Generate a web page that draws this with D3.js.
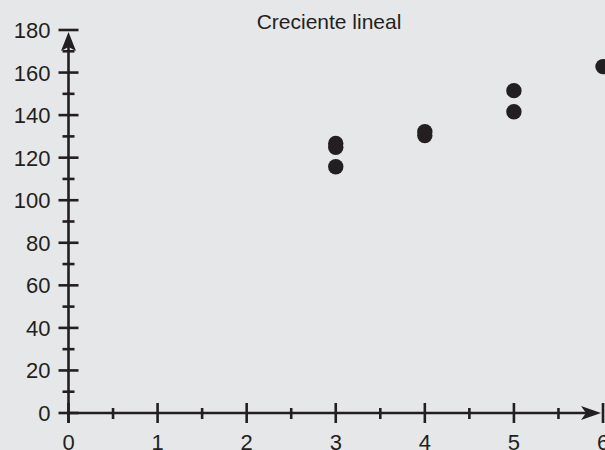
<!DOCTYPE html>
<html>
<head>
<meta charset="utf-8">
<script src="https://cdn.jsdelivr.net/npm/d3@7"></script>
<style>
  html, body { margin: 0; padding: 0; background: #e6e7e8; }
  svg { display: block; }
  text { font-family: "Liberation Sans", Arial, sans-serif; fill: #231f20; }
</style>
</head>
<body>
<svg id="chart" width="605" height="450"></svg>
<script>
// Observations: x position and measured value
const xValues = [3, 3, 3, 4, 4, 5, 5, 6];
const yValues = [126.7, 124.9, 115.7, 132.2, 130.4, 151.5, 141.6, 162.8];

// Tick labels
const xTickLabels = [0, 1, 2, 3, 4, 5, 6];
const yTickLabels = [0, 20, 40, 60, 80, 100, 120, 140, 160, 180];
const xMinorTicks = [0.5, 1.5, 2.5, 3.5, 4.5, 5.5];
const yMinorTicks = [10, 30, 50, 70, 90, 110, 130, 150, 170];

const title = "Creciente lineal";

const ink = "#231f20";
const svg = d3.select("#chart");

const x = d3.scaleLinear().domain([0, 6]).range([68.5, 603]);
const y = d3.scaleLinear().domain([0, 180]).range([413, 30]);

// Title
svg.append("text")
  .attr("x", 329).attr("y", 29)
  .attr("text-anchor", "middle")
  .style("font-size", "21px")
  .text(title);

const axes = svg.append("g").attr("stroke", ink).attr("stroke-width", 2.6);

// Axis lines
axes.append("line")
  .attr("x1", x(0)).attr("x2", x(6) - 12)
  .attr("y1", y(0)).attr("y2", y(0));
axes.append("line")
  .attr("x1", x(0)).attr("x2", x(0))
  .attr("y1", y(0) + 10).attr("y2", y(180) + 14);

// Major ticks (both sides of the axis)
axes.selectAll(".xmaj").data(xTickLabels).join("line")
  .attr("x1", d => x(d)).attr("x2", d => x(d))
  .attr("y1", y(0) - 10).attr("y2", y(0) + 10);
axes.selectAll(".ymaj").data(yTickLabels).join("line")
  .attr("x1", x(0) - 10).attr("x2", x(0) + 10)
  .attr("y1", d => y(d)).attr("y2", d => y(d));

// Minor ticks
axes.selectAll(".xmin").data(xMinorTicks).join("line")
  .attr("x1", d => x(d)).attr("x2", d => x(d))
  .attr("y1", y(0) - 5).attr("y2", y(0) + 6);
axes.selectAll(".ymin").data(yMinorTicks).join("line")
  .attr("x1", x(0) - 6).attr("x2", x(0) + 6)
  .attr("y1", d => y(d)).attr("y2", d => y(d));

// Arrowheads
const xa = x(6) - 2, ya = y(0);
svg.append("path")
  .attr("d", `M${xa},${ya} L${xa - 20},${ya - 7} L${xa - 15},${ya} L${xa - 20},${ya + 7} Z`)
  .attr("fill", ink);
const yx = x(0), yt = y(180) + 2;
svg.append("path")
  .attr("d", `M${yx},${yt} L${yx - 7.5},${yt + 19} L${yx},${yt + 15} L${yx + 7.5},${yt + 19} Z`)
  .attr("fill", ink);

// Tick labels
svg.selectAll(".xlab").data(xTickLabels).join("text")
  .attr("x", d => x(d)).attr("y", 450)
  .attr("text-anchor", "middle")
  .style("font-size", "22px")
  .text(d => d);
svg.selectAll(".ylab").data(yTickLabels).join("text")
  .attr("x", 50.5).attr("y", d => y(d) + 8)
  .attr("text-anchor", "end")
  .style("font-size", "22px")
  .text(d => d);

// Points
const pts = xValues.map((v, i) => ({ x: v, y: yValues[i] }));
svg.selectAll(".pt").data(pts).join("circle")
  .attr("cx", d => x(d.x)).attr("cy", d => y(d.y))
  .attr("r", 7.7)
  .attr("fill", ink);
</script>
</body>
</html>
